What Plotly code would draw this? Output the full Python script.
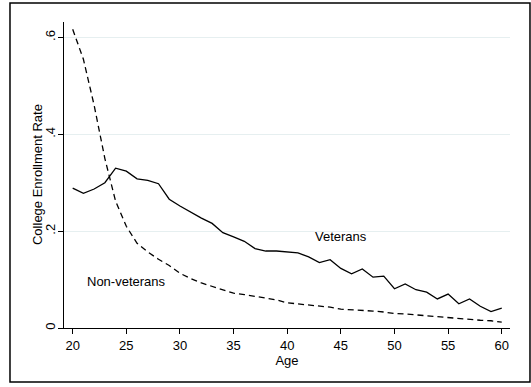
import plotly.graph_objects as go

ages = list(range(20, 61))
veterans = [0.289, 0.278, 0.287, 0.300, 0.330, 0.324, 0.308, 0.305, 0.298, 0.266,
            0.252, 0.239, 0.227, 0.216, 0.197, 0.188, 0.179, 0.164, 0.159, 0.159,
            0.157, 0.155, 0.147, 0.135, 0.141, 0.123, 0.112, 0.122, 0.105, 0.107,
            0.081, 0.091, 0.079, 0.074, 0.060, 0.070, 0.050, 0.060, 0.045, 0.034,
            0.041]
non_veterans = [0.617, 0.555, 0.460, 0.350, 0.262, 0.210, 0.175, 0.157, 0.142, 0.129,
                0.113, 0.102, 0.093, 0.086, 0.079, 0.072, 0.069, 0.065, 0.062, 0.058,
                0.052, 0.050, 0.048, 0.046, 0.043, 0.039, 0.038, 0.037, 0.035, 0.033,
                0.030, 0.029, 0.027, 0.025, 0.024, 0.021, 0.019, 0.018, 0.016, 0.015,
                0.012]
x_ticks = [20, 25, 30, 35, 40, 45, 50, 55, 60]
y_ticks = [0, 0.2, 0.4, 0.6]
y_tick_labels = ["0", ".2", ".4", ".6"]
labels = [("Veterans", 45, 0.188), ("Non-veterans", 25, 0.097)]
x_title = "Age"
y_title = "College Enrollment Rate"

FONT = "Liberation Sans, Arial, sans-serif"
FS = 13

fig = go.Figure()
fig.add_trace(go.Scatter(x=ages, y=veterans, mode="lines", name="Veterans",
                         line=dict(color="black", width=1.3)))
fig.add_trace(go.Scatter(x=ages, y=non_veterans, mode="lines", name="Non-veterans",
                         line=dict(color="black", width=1.3, dash="6px,4px")))

for text, x, y in labels:
    fig.add_annotation(x=x, y=y, text=text, showarrow=False,
                       font=dict(family=FONT, size=FS, color="black"))

# y-axis title placed as rotated annotation
fig.add_annotation(xref="paper", yref="paper", x=-0.0605, y=0.5, text=y_title,
                   textangle=-90, showarrow=False, xanchor="center", yanchor="middle",
                   font=dict(family=FONT, size=FS, color="black"))

fig.add_shape(type="rect", xref="paper", yref="paper",
              x0=-0.1211, x1=1.0448, y0=-0.1765, y1=1.0621,
              line=dict(color="black", width=1.5))

fig.update_layout(
    width=531, height=387,
    margin=dict(l=64, r=21, t=22, b=59),
    paper_bgcolor="white", plot_bgcolor="white",
    showlegend=False,
    font=dict(family=FONT, size=FS, color="black"),
    xaxis=dict(range=[19.19, 60.77], tickvals=x_ticks, ticks="outside", ticklen=5,
               tickcolor="black", showline=True, linecolor="black", linewidth=1.3,
               showgrid=False, zeroline=False,
               title=dict(text=x_title, standoff=0, font=dict(size=FS))),
    yaxis=dict(range=[0, 0.632], tickvals=y_ticks, ticktext=y_tick_labels,
               tickangle=-90, ticks="outside", ticklen=5, tickcolor="black",
               ticklabelstandoff=-2,
               showline=True, linecolor="black", linewidth=1.3,
               showgrid=True, gridcolor="#e6eff0", gridwidth=1, zeroline=False),
)

fig.write_html("out.html")
